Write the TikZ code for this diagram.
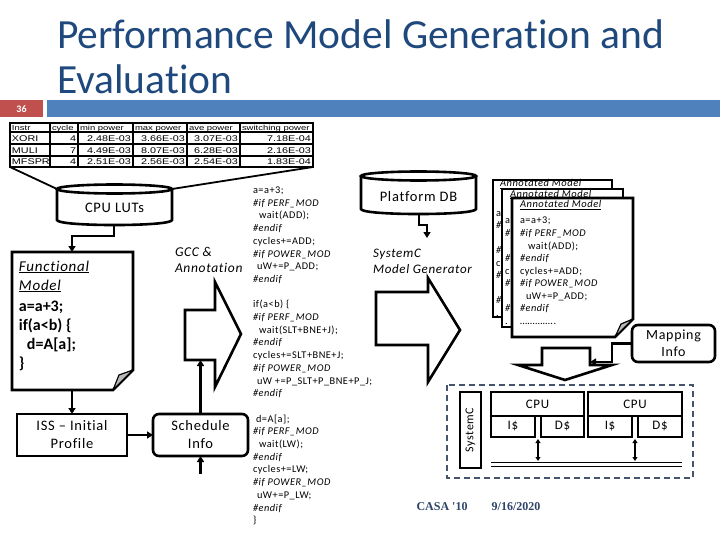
\documentclass[tikz,border=0pt]{standalone}
\usepackage{fontspec}
\setmainfont{Carlito}[Ligatures={TeX,NoCommon}]
\newfontfamily\lab[LetterSpace=5,Ligatures={TeX,NoCommon}]{Carlito}
\newfontfamily\tabf[FakeStretch=1.3]{Liberation Sans}
\newfontfamily\foot{Liberation Serif}
\usetikzlibrary{arrows.meta}
\definecolor{titleblue}{HTML}{1F497D}
\definecolor{barblue}{HTML}{4F81BD}
\definecolor{barred}{HTML}{C0504D}
\definecolor{dashblue}{HTML}{44546A}
\definecolor{footblue}{HTML}{2B4468}
\newcommand\mydoc[5]{%
  \draw[line width=2.6pt, fill=white, line join=miter] (#1,#2) -- (#3,#2) -- (#3,#4-#5) -- (#3-#5,#4) -- (#1,#4) -- cycle;
  \draw[line width=1.2pt, fill=gray!55, line join=round] (#3-#5,#4) -- (#3-#5+6,#4-#5+5) -- (#3,#4-#5) -- cycle;
}
\newcommand\backdoc[4]{%
  \draw[line width=2.6pt, fill=white, line join=miter] (#1,#2) rectangle (#3,#4);
}
\newcommand\doclines[3]{%
  \node[code] (#1a) at (#2,#3) {a=a+3;};
  \node[code] (#1b) at (#2,#3+12.5) {\textit{\#if PERF\_MOD}};
  \node[code] (#1c) at (#2+8,#3+25) {wait(ADD);};
  \node[code] (#1d) at (#2,#3+37.5) {\textit{\#endif}};
  \node[code] (#1e) at (#2,#3+50) {cycles+=ADD;};
  \node[code] (#1f) at (#2,#3+62.5) {\textit{\#if POWER\_MOD}};
  \node[code] (#1g) at (#2+6,#3+75) {uW+=P\_ADD;};
  \node[code] (#1h) at (#2,#3+87.5) {\textit{\#endif}};
  \node[code] (#1i) at (#2,#3+100) {…………..};
}
\newcommand\docstrip[3]{%
  \node[code] (#1a) at (#2,#3) {a};
  \node[code] (#1b) at (#2,#3+12.5) {\textit{\#}};
  \node[code] (#1d) at (#2,#3+37.5) {\textit{\#}};
  \node[code] (#1e) at (#2,#3+50) {c};
  \node[code] (#1f) at (#2,#3+62.5) {\textit{\#}};
  \node[code] (#1h) at (#2,#3+87.5) {\textit{\#}};
  \node[code] (#1i) at (#2,#3+100) {.};
}
\begin{document}
\begin{tikzpicture}[x=1pt,y=-1pt,
  every node/.style={inner sep=0pt, outer sep=0pt},
  ln/.style={line width=2.6pt},
  arr/.style={line width=2.2pt,-{Triangle[length=6pt,width=7pt]}},
  biarr/.style={line width=2pt,{Triangle[length=4pt,width=5pt]}-{Triangle[length=4pt,width=5pt]}},
  code/.style={anchor=base west, font=\lab\fontsize{10.3}{12}\selectfont},
  tabh/.style={anchor=base west, font=\tabf\fontsize{7.3}{8}\selectfont},
  tabn/.style={anchor=base east, font=\tabf\fontsize{8.3}{9}\selectfont},
  tabl/.style={anchor=base west, font=\tabf\fontsize{8.3}{9}\selectfont},
  lbl/.style={font=\lab\fontsize{14.5}{18}\selectfont, align=center},
  ilbl/.style={anchor=base west, font=\lab\itshape\fontsize{13.5}{16}\selectfont},
  fmt/.style={anchor=base west, font=\lab\itshape\fontsize{15}{18}\selectfont},
  fmc/.style={anchor=base west, font=\bfseries\fontsize{16}{18}\selectfont},
  dtitle/.style={anchor=base west, font=\lab\itshape\fontsize{10.5}{11}\selectfont},
  boxn/.style={draw, line width=2.6pt, fill=white},
]
\useasboundingbox (0,0) rectangle (720,540);
% title and bar
\node[anchor=base west, font=\fontsize{41.5}{45}\selectfont, text=titleblue] (t1) at (57,49) {Performance Model Generation and};
\node[anchor=base west, font=\fontsize{41.5}{45}\selectfont, text=titleblue] (t2) at (57,94) {Evaluation};
\fill[barred] (0,100) rectangle (43,117);
\fill[barblue] (47,100) rectangle (720,117);
\node[text=white, font=\bfseries\fontsize{10}{11}\selectfont] (num) at (21.5,109) {36};
% table
\foreach \x in {50,78,133,187,240} \draw[line width=1.1pt] (\x,123) -- (\x,167);
\foreach \y in {132,144,156} \draw[line width=1.1pt] (10,\y) -- (313,\y);
\draw[line width=1.8pt] (10,123) rectangle (313,167);
\node[tabh] (hi) at (12,130.5) {Instr};
\node[tabh] (hc) at (52,130.5) {cycle};
\node[tabh] (hmn) at (80,130.5) {min power};
\node[tabh] (hmx) at (135,130.5) {max power};
\node[tabh] (hav) at (189,130.5) {ave power};
\node[tabh] (hsw) at (242,130.5) {switching power};
\foreach \r/\y/\n/\c/\a/\b/\v/\s in {1/141.5/XORI/4/2.48E-03/3.66E-03/3.07E-03/7.18E-04, 2/153.5/MULI/7/4.49E-03/8.07E-03/6.28E-03/2.16E-03, 3/165/MFSPR/4/2.51E-03/2.56E-03/2.54E-03/1.83E-04}{
  \node[tabl] (r\r-n) at (12,\y) {\n};
  \node[tabn] (r\r-c) at (76,\y) {\c};
  \node[tabn] (r\r-a) at (131,\y) {\a};
  \node[tabn] (r\r-b) at (185,\y) {\b};
  \node[tabn] (r\r-v) at (238,\y) {\v};
  \node[tabn] (r\r-s) at (311,\y) {\s};
}
\coordinate (tbl-sw) at (10,167);
\coordinate (tbl-se) at (313,167);
% CPU LUTs cylinder
\coordinate (lut-nw) at (57,189);
\coordinate (lut-ne) at (172,189);
\draw[line width=1.8pt] (tbl-sw) -- (lut-nw);
\draw[line width=1.8pt] (tbl-se) -- (lut-ne);
\draw[ln, fill=white] (57,189) -- (57,220) .. controls (57,226.7) and (172,226.7) .. (172,220) -- (172,189);
\draw[ln, fill=white] (114.5,189) ellipse [x radius=57.5, y radius=4.5];
\node[lbl] (lut) at (114.5,208) {CPU LUTs};
\coordinate (lut-b) at (114,225.5);
% Functional model
\mydoc{12}{252}{133}{390}{20}
\coordinate (fm-t) at (72,252);
\coordinate (fm-b) at (72,390);
\draw[arr] (lut-b) -- ++(0,10.5) -| (fm-t);
\node[fmt] (fm1) at (19,271) {\underline{Functional}};
\node[fmt] (fm2) at (19,290) {\underline{Model}};
\node[fmc] (fm3) at (19,311) {a=a+3;};
\node[fmc] (fm4) at (19,330) {if(a<b) \{};
\node[fmc] (fm5) at (27,349) {d=A[a];};
\node[fmc] (fm6) at (19,368) {\}};
% ISS and Schedule
\node[boxn, lbl, minimum width=110, minimum height=42] (iss) at (72,435) {ISS – Initial\\Profile};
\node[boxn, lbl, rounded corners=6pt, minimum width=95, minimum height=42] (sched) at (200.5,435) {Schedule\\Info};
\draw[arr] (fm-b) -- (iss.north);
\draw[arr] (iss.east) -- (sched.west);
\coordinate (ba1-b) at (200.5,360);
\draw[arr] (sched.north) -- (ba1-b);
\coordinate (stub) at (200.5,474);
\draw[arr] (stub) -- (sched.south);
% block arrow 1
\draw[ln, fill=white, line join=miter] (185,310) -- (215,310) -- (215,282) -- (241,334) -- (215,387) -- (215,360) -- (185,360) -- cycle;
\node[ilbl] (gcc1) at (175,256) {GCC \&};
\node[ilbl] (gcc2) at (175,272) {Annotation};
% middle code
\foreach \i/\dx/\t in {0/0/{a=a+3;}, 1/0/{\textit{\#if PERF\_MOD}}, 2/6/{wait(ADD);}, 3/0/{\textit{\#endif}}, 4/0/{cycles+=ADD;}, 5/0/{\textit{\#if POWER\_MOD}}, 6/4/{uW+=P\_ADD;}, 7/0/{\textit{\#endif}},
  9/0/{if(a<b) \{}, 10/0/{\textit{\#if PERF\_MOD}}, 11/6/{wait(SLT+BNE+J);}, 12/0/{\textit{\#endif}}, 13/0/{cycles+=SLT+BNE+J;}, 14/0/{\textit{\#if POWER\_MOD}}, 15/4/{uW +=P\_SLT+P\_BNE+P\_J;}, 16/0/{\textit{\#endif}},
  18/3/{d=A[a];}, 19/0/{\textit{\#if PERF\_MOD}}, 20/6/{wait(LW);}, 21/0/{\textit{\#endif}}, 22/0/{cycles+=LW;}, 23/0/{\textit{\#if POWER\_MOD}}, 24/4/{uW+=P\_LW;}, 25/0/{\textit{\#endif}}, 26/0/{\}}}
  \node[code] (mc\i) at (253+\dx,193.5+12.7*\i) {\t};
% Platform DB
\draw[ln, fill=white] (361,176) -- (361,209) .. controls (361,215.7) and (476,215.7) .. (476,209) -- (476,176);
\draw[ln, fill=white] (418.5,176) ellipse [x radius=57.5, y radius=4.5];
\node[lbl] (pdb) at (418.5,197) {Platform DB};
\coordinate (pdb-b) at (419,214);
\coordinate (gen) at (427,238);
\draw[arr] (pdb-b) -- ++(0,11) -| (gen);
\node[ilbl, font=\lab\itshape\fontsize{13}{16}\selectfont] (sg1) at (373,257) {SystemC};
\node[ilbl, font=\lab\itshape\fontsize{13}{16}\selectfont] (sg2) at (373,273) {Model Generator};
% block arrow 2
\draw[ln, fill=white, line join=miter] (376,292) -- (428,292) -- (428,278) -- (460,330) -- (428,382) -- (428,345) -- (376,345) -- cycle;
% annotated docs
\backdoc{493}{180}{612}{317}
\node[dtitle] (dt1) at (500,186.5) {\underline{Annotated Model}};
\docstrip{da}{496}{216}
\backdoc{502}{189}{623}{327}
\node[dtitle] (dt2) at (510,197) {\underline{Annotated Model}};
\docstrip{db}{505}{224}
\mydoc{512}{198}{633}{337}{18}
\doclines{dc}{520}{224}
\node[dtitle] (dt3) at (520,207.5) {\underline{Annotated Model}};
% mapping info
\node[boxn, lbl, font=\lab\fontsize{14}{17}\selectfont, rounded corners=6pt, minimum width=83, minimum height=37] (map) at (673.5,343.5) {Mapping\\Info};
% block arrow 3
\draw[ln, fill=white, line join=miter] (542,348) -- (590,348) -- (590,365) -- (612,365) -- (565,380) -- (518,365) -- (542,365) -- cycle;
\coordinate (ba3-r) at (590,362);
\draw[arr] (map.west) -- ++(-20,0) |- (ba3-r);
% SystemC platform
\draw[line width=2.6pt, dash pattern=on 6pt off 4pt, draw=dashblue] (447,385) rectangle (693,478);
\node[boxn, rotate=90, minimum width=76, minimum height=21, font=\lab\fontsize{12}{14}\selectfont] (sysc) at (470.5,430) {SystemC};
\node[boxn, lbl, font=\lab\fontsize{13}{15}\selectfont, minimum width=93, minimum height=24] (cpu1) at (537.5,404) {CPU};
\node[boxn, lbl, font=\lab\fontsize{13}{15}\selectfont, minimum width=44, minimum height=21] (i1) at (513,426.5) {I\$};
\node[boxn, lbl, font=\lab\fontsize{13}{15}\selectfont, minimum width=43, minimum height=21] (d1) at (562.5,426.5) {D\$};
\node[boxn, lbl, font=\lab\fontsize{13}{15}\selectfont, minimum width=94, minimum height=24] (cpu2) at (635,404) {CPU};
\node[boxn, lbl, font=\lab\fontsize{13}{15}\selectfont, minimum width=44, minimum height=21] (i2) at (610,426.5) {I\$};
\node[boxn, lbl, font=\lab\fontsize{13}{15}\selectfont, minimum width=44, minimum height=21] (d2) at (660,426.5) {D\$};
\coordinate (bus-l) at (491,462.5);
\coordinate (bus-r) at (682,462.5);
\coordinate (bus-l2) at (491,466.5);
\coordinate (bus-r2) at (682,466.5);
\draw[line width=1.6pt] (bus-l) -- (bus-r);
\draw[line width=1.6pt] (bus-l2) -- (bus-r2);
\coordinate (c1) at (538,439);
\coordinate (b1) at (538,461);
\coordinate (c2) at (635,439);
\coordinate (b2) at (635,461);
\draw[biarr] (c1) -- (b1);
\draw[biarr] (c2) -- (b2);
% footer
\node[font=\foot\bfseries\fontsize{12}{14}\selectfont, text=footblue] (casa) at (442,507) {CASA '10};
\node[font=\foot\bfseries\fontsize{12}{14}\selectfont, text=footblue] (date) at (516,507) {9/16/2020};
\end{tikzpicture}
\end{document}
